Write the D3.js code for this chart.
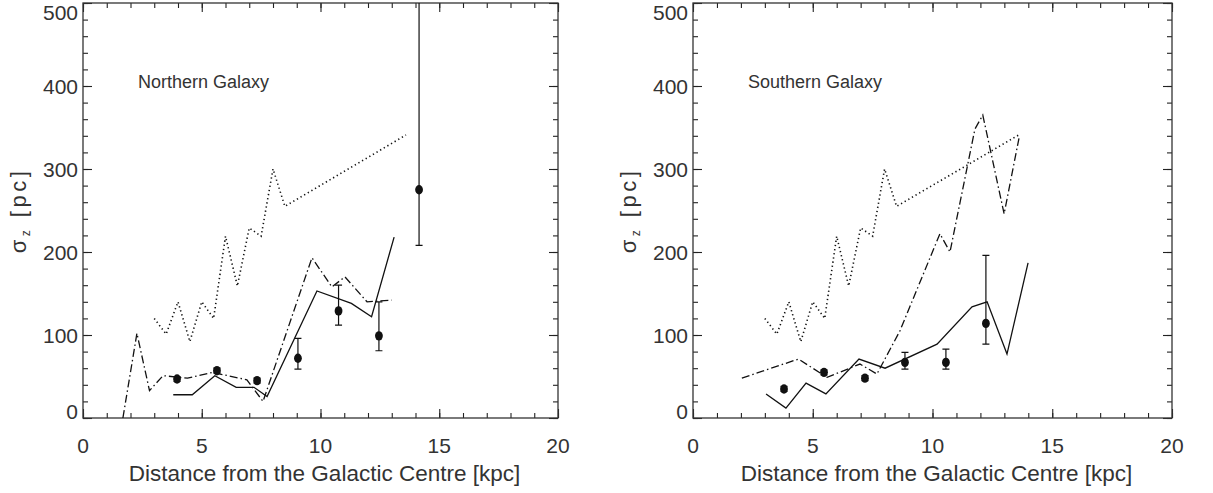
<!DOCTYPE html>
<html>
<head>
<meta charset="utf-8">
<script src="https://cdn.jsdelivr.net/npm/d3@7"></script>
<style>
  body { margin: 0; background: #fff; }
  svg text { font-family: "Liberation Sans", Arial, sans-serif; fill: #333; }
</style>
</head>
<body>
<div id="chart"></div>
<script>
// model curve (dotted) - same in both panels
const dotX = [3.0, 3.5, 4.0, 4.5, 5.0, 5.5, 6.0, 6.5, 7.0, 7.5, 8.0, 8.5, 13.6];
const dotY = [120, 101, 140, 92, 140, 120, 219, 159, 229, 219, 300, 255, 341];

// northern galaxy
const nSolidX = [3.8, 4.6, 5.55, 6.45, 7.2, 7.75, 9.85, 11.3, 12.15, 13.1];
const nSolidY = [28, 28, 51, 37, 37, 26, 153, 138, 122, 218];
const nDashX = [1.68, 2.27, 2.8, 3.37, 4.4, 5.45, 6.9, 7.58, 9.64, 10.48, 11.03, 11.96, 13.0];
const nDashY = [0, 102, 33, 51, 48, 55, 46, 20, 193, 158, 170, 140, 142];
const nPtX = [3.96, 5.64, 7.33, 9.05, 10.76, 12.46, 14.15];
const nPtY = [47, 57, 45, 72, 129, 99, 275];
const nErrLo = [44, 54, 42, 59, 112, 81, 208];
const nErrHi = [50, 60, 48, 96, 160, 140, 560];

// southern galaxy
const sSolidX = [3.05, 3.88, 4.72, 5.55, 6.93, 8.02, 10.19, 11.65, 12.28, 13.11, 13.99];
const sSolidY = [29, 12, 42, 29, 71, 60, 89, 134, 140, 77, 187];
const sDashX = [2.04, 4.4, 5.6, 6.97, 7.68, 8.64, 10.31, 10.73, 11.77, 12.1, 12.99, 13.61];
const sDashY = [48, 71, 49, 65, 53, 105, 222, 200, 348, 365, 246, 337];
const sPtX = [3.8, 5.47, 7.18, 8.85, 10.56, 12.23];
const sPtY = [35, 55, 48, 67, 67, 114];
const sErrLo = [32, 52, 45, 59, 59, 89];
const sErrHi = [38, 58, 51, 79, 83, 196];

const xTicks = [0, 5, 10, 15, 20];
const yTicks = [0, 100, 200, 300, 400, 500];
const xLabel = "Distance from the Galactic Centre [kpc]";

const w = 1213;
const h = 493;

const svg = d3.select("#chart").append("svg")
  .attr("width", w)
  .attr("height", h);

const panels = [
  { id: "n", title: "Northern Galaxy", left: 83, right: 558,
    solid: [nSolidX, nSolidY], dash: [nDashX, nDashY],
    pts: [nPtX, nPtY, nErrLo, nErrHi] },
  { id: "s", title: "Southern Galaxy", left: 693, right: 1172,
    solid: [sSolidX, sSolidY], dash: [sDashX, sDashY],
    pts: [sPtX, sPtY, sErrLo, sErrHi] }
];

const plotTop = 3;
const plotBottom = 418;

panels.forEach((p) => {
  const x = d3.scaleLinear([0, 20], [p.left, p.right]);
  const y = d3.scaleLinear([0, 500], [plotBottom, plotTop]);
  const pw = p.right - p.left;
  const ph = plotBottom - plotTop;

  svg.append("clipPath").attr("id", "clip-" + p.id)
    .append("rect")
    .attr("x", p.left).attr("y", plotTop)
    .attr("width", pw).attr("height", ph);

  // ticks, all pointing inwards
  const minorX = d3.range(0, 21, 1);
  const minorY = d3.range(0, 501, 20);
  const axes = [
    [d3.axisBottom(x), `translate(0,${plotBottom})`, minorX, xTicks],
    [d3.axisTop(x), `translate(0,${plotTop})`, minorX, xTicks],
    [d3.axisLeft(y), `translate(${p.left},0)`, minorY, yTicks],
    [d3.axisRight(y), `translate(${p.right},0)`, minorY, yTicks]
  ];
  axes.forEach(([ax, tr, minor, major]) => {
    const gm = svg.append("g").attr("transform", tr)
      .call(ax.tickValues(minor).tickSize(-5).tickFormat(""));
    const gM = svg.append("g").attr("transform", tr)
      .call(ax.tickValues(major).tickSize(-9).tickFormat(""));
    [gm, gM].forEach((g) => {
      g.select(".domain").remove();
      g.selectAll("line").attr("stroke", "#222").attr("stroke-width", 1.1);
    });
  });

  svg.append("rect")
    .attr("x", p.left).attr("y", plotTop)
    .attr("width", pw).attr("height", ph)
    .attr("fill", "none").attr("stroke", "#333").attr("stroke-width", 1.3);

  // tick labels
  svg.append("g").selectAll("text").data(xTicks).join("text")
    .attr("x", (d) => x(d))
    .attr("y", 453)
    .attr("text-anchor", "middle")
    .attr("font-size", 21)
    .text((d) => d);

  svg.append("g").selectAll("text").data(yTicks).join("text")
    .attr("x", p.left - 5)
    .attr("y", (d) => Math.min(Math.max(y(d), 12), 411))
    .attr("dy", "0.36em")
    .attr("text-anchor", "end")
    .attr("font-size", 21)
    .text((d) => d);

  svg.append("text")
    .attr("x", (p.left + p.right) / 2 + 4)
    .attr("y", 481)
    .attr("text-anchor", "middle")
    .attr("font-size", 22.5)
    .text(xLabel);

  const yl = svg.append("text")
    .attr("transform", `translate(${p.left - 57},${(plotTop + plotBottom) / 2}) rotate(-90)`)
    .attr("text-anchor", "middle")
    .attr("font-size", 22)
    .attr("letter-spacing", 3.5);
  yl.append("tspan").text("σ");
  yl.append("tspan").attr("font-size", 12).attr("dy", 4).text("z");
  yl.append("tspan").attr("dy", -4).text("  [pc]");

  svg.append("text")
    .attr("x", p.left + 55)
    .attr("y", 88)
    .attr("font-size", 18)
    .text(p.title);

  // curves
  const line = d3.line().x((d) => x(d[0])).y((d) => y(d[1]));
  const g = svg.append("g").attr("clip-path", `url(#clip-${p.id})`);

  g.append("path")
    .attr("d", line(d3.zip(dotX, dotY)))
    .attr("fill", "none").attr("stroke", "#111")
    .attr("stroke-width", 1.6).attr("stroke-dasharray", "1.3 2.9");

  g.append("path")
    .attr("d", line(d3.zip(p.dash[0], p.dash[1])))
    .attr("fill", "none").attr("stroke", "#111")
    .attr("stroke-width", 1.3).attr("stroke-dasharray", "8 3 1.5 3");

  g.append("path")
    .attr("d", line(d3.zip(p.solid[0], p.solid[1])))
    .attr("fill", "none").attr("stroke", "#111")
    .attr("stroke-width", 1.3);

  // data points with error bars
  const pts = d3.zip(...p.pts);
  g.selectAll(".err").data(pts).join("path")
    .attr("class", "err")
    .attr("d", (d) => {
      const cx = x(d[0]);
      const lo = y(d[2]);
      const hi = y(d[3]);
      return `M${cx - 3.5},${lo}H${cx + 3.5}M${cx},${lo}V${hi}M${cx - 3.5},${hi}H${cx + 3.5}`;
    })
    .attr("fill", "none").attr("stroke", "#111").attr("stroke-width", 1.2);

  g.selectAll(".pt").data(pts).join("ellipse")
    .attr("class", "pt")
    .attr("cx", (d) => x(d[0]))
    .attr("cy", (d) => y(d[1]))
    .attr("rx", 3.9)
    .attr("ry", 4.7)
    .attr("fill", "#111");
});
</script>
</body>
</html>
